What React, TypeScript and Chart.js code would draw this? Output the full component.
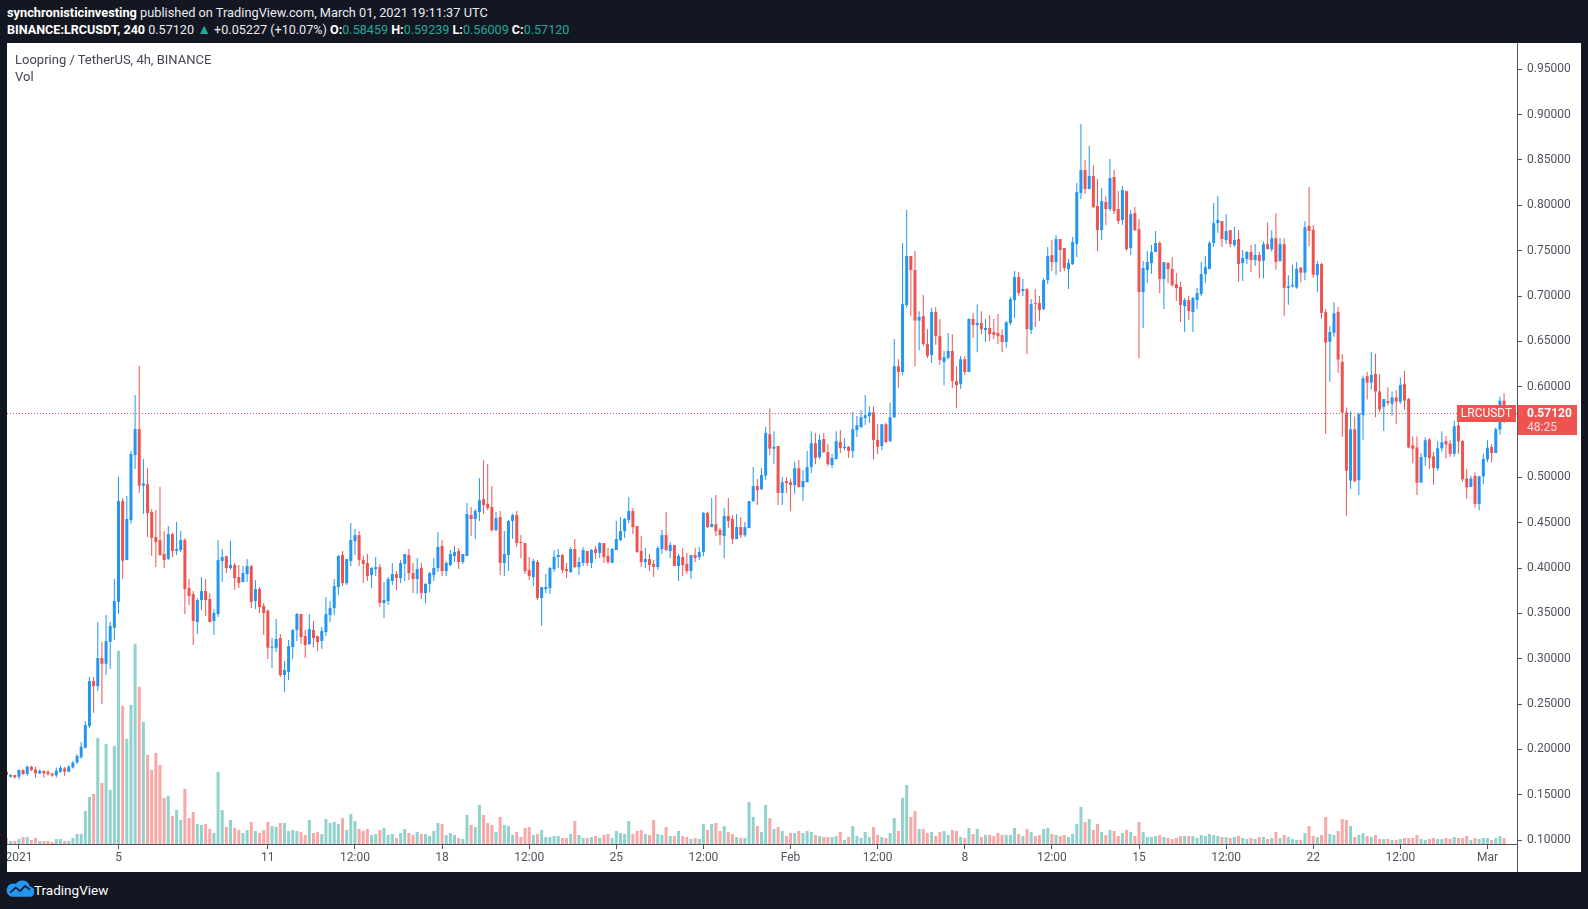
import React, { useEffect, useRef } from "react";
import { Chart, registerables } from "chart.js";

Chart.register(...registerables);

// 4h candles, index 0 = 31 Dec 2020 12:00 UTC
const OPEN = [
.1755,.1700,.1718,.1700,.1773,.1729,.1810,.1780,.1736,.1762,
.1755,.1736,.1714,.1755,.1791,.1755,.1802,.1857,.1913,.2019,
.2258,.2754,.2699,.3008,.2945,.3188,.3342,.3629,.4739,.4088,
.4530,.5246,.5533,.4908,.4926,.4618,.4342,.4309,.4155,.4100,
.4375,.4188,.4199,.4309,.3780,.3714,.3405,.3648,.3747,.3659,
.3416,.3493,.4077,.4133,.4000,.4033,.3901,.3846,.3934,.4022,
.3637,.3769,.3581,.3530,.3122,.3122,.3229,.2821,.2854,.3129,
.3317,.3493,.3251,.3162,.3317,.3251,.3196,.3295,.3482,.3559,
.3791,.4144,.3835,.4078,.4298,.4364,.4089,.4056,.3923,.3989,
.4011,.3615,.3637,.3857,.3934,.3890,.4045,.4144,.3945,.3879,
.4000,.3725,.3824,.3923,.4000,.4243,.3967,.4034,.4133,.4188,
.4067,.4133,.4585,.4541,.4618,.4761,.4706,.4673,.4419,.4563,
.4056,.4144,.4519,.4585,.4287,.4276,.3978,.3901,.4067,.3670,
.3769,.3780,.3989,.4122,.4144,.3989,.3956,.4210,.4011,.4056,
.4188,.4056,.4210,.4166,.4276,.4133,.4056,.4199,.4309,.4408,
.4530,.4629,.4463,.4188,.4067,.4100,.4045,.4012,.4210,.4364,
.4188,.4254,.4023,.4122,.4045,.3967,.4144,.4122,.4177,.4607,
.4452,.4485,.4419,.4353,.4574,.4541,.4320,.4452,.4364,.4441,
.4739,.4904,.4871,.5019,.5477,.5318,.5346,.4829,.4960,.4947,
.4915,.5101,.4892,.4947,.5114,.5377,.5223,.5423,.5278,.5137,
.5201,.5391,.5323,.5337,.5291,.5523,.5554,.5654,.5677,.5717,
.5414,.5346,.5586,.5400,.5663,.6226,.6162,.6901,.7441,.7287,
.6729,.6779,.6471,.6348,.6824,.6557,.6271,.6317,.6394,.6062,
.6031,.6303,.6162,.6747,.6679,.6702,.6625,.6648,.6602,.6593,
.6570,.6493,.6702,.6955,.7209,.7055,.7077,.6625,.6922,.6922,
.6856,.7176,.7452,.7374,.7628,.7529,.7297,.7352,.7573,.8135,
.8389,.8179,.8323,.7992,.7727,.8036,.7959,.8312,.7959,.7837,
.8157,.7529,.7915,.7738,.7044,.7286,.7363,.7485,.7584,.7187,
.7363,.7297,.7132,.7099,.6889,.6955,.6823,.6955,.7022,.7242,
.7297,.7584,.7804,.7826,.7617,.7727,.7562,.7628,.7363,.7408,
.7485,.7397,.7452,.7389,.7572,.7516,.7637,.7389,.7572,.7090,
.7108,.7094,.7314,.7258,.7773,.7731,.7230,.7352,.6823,.6495,
.6594,.6823,.6275,.5714,.4965,.5531,.4970,.5686,.6116,.6046,
.6140,.5948,.5779,.5840,.5812,.5882,.5835,.6028,.5864,.5354,
.5330,.4942,.5223,.5419,.5232,.5101,.5321,.5400,.5372,.5260,
.5574,.5400,.4988,.4895,.5017,.4708,.5012,.5199,.5335,.5269,
.5527,.58459];

const HIGH = [
.1760,.1730,.1720,.1780,.1780,.1820,.1820,.1810,.1780,.1770,
.1770,.1740,.1800,.1820,.1810,.1830,.1870,.1950,.2080,.2310,
.2800,.2800,.3405,.3184,.3482,.3409,.3879,.5004,.4772,.4794,
.5290,.5908,.6228,.5202,.5103,.4651,.4640,.4893,.4408,.4463,
.4386,.4508,.4408,.4331,.3879,.3747,.3670,.3901,.3879,.3725,
.3548,.4309,.4210,.4133,.4298,.4055,.4033,.4022,.4100,.4033,
.3868,.3791,.3614,.3545,.3229,.3438,.3273,.2975,.3207,.3328,
.3504,.3493,.3317,.3493,.3416,.3251,.3350,.3681,.3637,.3879,
.4144,.4188,.4100,.4497,.4430,.4408,.4133,.4155,.4011,.4122,
.4045,.3846,.3901,.4056,.3967,.4089,.4155,.4210,.4056,.4111,
.4056,.3835,.3956,.4111,.4397,.4309,.4078,.4199,.4243,.4221,
.4155,.4717,.4673,.4651,.4993,.5191,.5147,.4905,.4618,.4630,
.4408,.4530,.4600,.4629,.4364,.4276,.4122,.4100,.4089,.3791,
.3934,.4011,.4199,.4210,.4155,.4056,.4232,.4320,.4122,.4232,
.4188,.4210,.4243,.4287,.4276,.4221,.4221,.4519,.4563,.4552,
.4783,.4662,.4463,.4353,.4221,.4155,.4089,.4243,.4419,.4618,
.4287,.4254,.4155,.4221,.4166,.4144,.4221,.4232,.4618,.4618,
.4772,.4805,.4441,.4662,.4772,.4585,.4596,.4563,.4508,.4739,
.5114,.4982,.5103,.5559,.5763,.5509,.5346,.5005,.5005,.4983,
.5169,.5192,.5083,.5291,.5509,.5491,.5477,.5491,.5368,.5259,
.5509,.5523,.5432,.5346,.5722,.5677,.5740,.5908,.5785,.5785,
.5586,.5586,.5600,.5822,.6525,.6303,.7582,.7949,.7441,.7496,
.6833,.7010,.6634,.6870,.6879,.6747,.6394,.6593,.6579,.6226,
.6339,.6339,.6756,.6811,.6910,.6833,.6747,.6788,.6747,.6802,
.6634,.6725,.6988,.7275,.7264,.7187,.7088,.6966,.7077,.7000,
.7198,.7540,.7617,.7672,.7628,.7529,.7408,.7650,.8245,.8896,
.8499,.8654,.8444,.8290,.8190,.8102,.8510,.8389,.8157,.8212,
.8157,.7948,.7981,.7849,.7385,.7496,.7562,.7716,.7606,.7374,
.7374,.7430,.7253,.7154,.6977,.6999,.6988,.7088,.7374,.7441,
.7606,.8025,.8102,.7826,.7904,.7727,.7760,.7727,.7507,.7496,
.7562,.7573,.7485,.7600,.7811,.7726,.7914,.7637,.7637,.7230,
.7347,.7375,.7314,.7825,.8204,.7783,.7389,.7366,.6856,.6669,
.6931,.6879,.6360,.5770,.5728,.5672,.5714,.6125,.6163,.6383,
.6364,.6140,.5864,.5995,.5948,.5962,.6102,.6173,.5878,.5452,
.5452,.5269,.5442,.5428,.5279,.5400,.5508,.5456,.5414,.5625,
.5667,.5414,.5096,.5017,.5054,.5012,.5260,.5410,.5367,.5550,
.5892,.59239];

const LOW = [
.1670,.1690,.1680,.1670,.1720,.1710,.1760,.1688,.1730,.1690,
.1710,.1700,.1690,.1740,.1710,.1750,.1790,.1840,.1900,.2010,
.2240,.2405,.2644,.2501,.2820,.2887,.3206,.3493,.3879,.4088,
.4493,.5092,.4827,.4596,.4342,.4133,.4011,.4133,.4000,.4088,
.4122,.4144,.4177,.3493,.3592,.3151,.3273,.3537,.3471,.3405,
.3261,.3460,.3846,.3945,.3978,.3758,.3780,.3846,.3846,.3559,
.3548,.3504,.3261,.2997,.2898,.3074,.2799,.2633,.2765,.2997,
.3196,.3162,.3008,.3151,.3129,.3085,.3107,.3251,.3405,.3482,
.3703,.3802,.3813,.4022,.4144,.4022,.3835,.3857,.3780,.3912,
.3570,.3449,.3592,.3813,.3758,.3835,.3857,.3868,.3725,.3714,
.3659,.3615,.3735,.3857,.3956,.3912,.3912,.4022,.4067,.3989,
.4045,.4133,.4353,.4320,.4519,.4596,.4640,.4397,.4408,.3923,
.3912,.3967,.4320,.4232,.4111,.3934,.3868,.3802,.3648,.3364,
.3725,.3714,.3956,.4000,.3945,.3890,.3945,.4000,.3923,.4022,
.4022,.4000,.4100,.4111,.4056,.4045,.4056,.4199,.4298,.4331,
.4497,.4375,.4166,.4012,.4001,.3967,.3901,.3978,.4155,.4188,
.4111,.4023,.3857,.3912,.3934,.3879,.4067,.4089,.4133,.4441,
.4452,.4353,.4254,.4111,.4441,.4265,.4320,.4331,.4342,.4441,
.4728,.4695,.4860,.4974,.5246,.5151,.4697,.4697,.4829,.4629,
.4820,.4892,.4738,.4947,.5047,.5146,.5201,.5269,.5124,.5101,
.5201,.5269,.5300,.5214,.5214,.5445,.5545,.5577,.5600,.5201,
.5259,.5300,.5377,.5391,.5654,.5985,.6130,.6869,.6779,.6226,
.6403,.6448,.6316,.6262,.6462,.6239,.6017,.6303,.5985,.5763,
.5976,.6130,.6162,.6538,.6380,.6579,.6493,.6502,.6525,.6471,
.6380,.6425,.6679,.6757,.7000,.7000,.6360,.6581,.6658,.6724,
.6845,.7132,.7275,.7231,.7264,.7275,.7077,.7341,.7430,.8069,
.8124,.8179,.7970,.7496,.7617,.7782,.7937,.7904,.7793,.7782,
.7496,.7452,.7716,.6316,.6647,.7143,.7242,.7485,.7033,.6856,
.7143,.7099,.6944,.6713,.6603,.6735,.6603,.6856,.7000,.7143,
.7297,.7540,.7694,.7540,.7573,.7540,.7540,.7154,.7165,.7352,
.7264,.7330,.7198,.7193,.7516,.7488,.7291,.7375,.6781,.6903,
.7094,.7080,.7151,.7174,.7553,.7202,.7043,.6753,.5480,.6055,
.6552,.6154,.5447,.4577,.4871,.4956,.4806,.5414,.5859,.5966,
.5662,.5719,.5513,.5793,.5681,.5587,.5812,.5747,.5321,.5157,
.4806,.4942,.5129,.5096,.4918,.5073,.5284,.5209,.5227,.5227,
.5260,.4951,.4764,.4895,.4665,.4637,.4928,.5166,.5166,.5269,
.5471,.56009];

const CLOSE = [
.1718,.1718,.1692,.1773,.1729,.1810,.1773,.1736,.1766,.1736,
.1729,.1714,.1766,.1799,.1755,.1810,.1857,.1927,.2030,.2269,
.2754,.2699,.3008,.2945,.3195,.3361,.3637,.4739,.4081,.4541,
.5257,.5533,.4908,.4934,.4607,.4335,.4287,.4144,.4088,.4375,
.4188,.4210,.4309,.3769,.3692,.3416,.3648,.3747,.3648,.3405,
.3504,.4088,.4122,.4000,.4033,.3890,.3835,.3945,.4022,.3625,
.3769,.3570,.3504,.3122,.3129,.3218,.2821,.2876,.3140,.3317,
.3493,.3240,.3151,.3328,.3229,.3185,.3306,.3493,.3559,.3802,
.4133,.3835,.4100,.4309,.4364,.4089,.4045,.3912,.4000,.4011,
.3615,.3648,.3879,.3934,.3890,.4056,.4155,.3945,.3879,.3989,
.3725,.3824,.3945,.4000,.4232,.3967,.4056,.4155,.4177,.4067,
.4155,.4596,.4541,.4630,.4750,.4695,.4662,.4419,.4552,.4056,
.4155,.4519,.4585,.4276,.4276,.3967,.3912,.4078,.3670,.3791,
.3791,.4000,.4122,.4144,.3978,.3967,.4210,.4011,.4067,.4199,
.4056,.4199,.4166,.4276,.4122,.4067,.4210,.4320,.4408,.4541,
.4629,.4452,.4177,.4067,.4100,.4034,.4012,.4221,.4364,.4199,
.4254,.4023,.4133,.4034,.3967,.4144,.4111,.4177,.4607,.4452,
.4485,.4408,.4364,.4574,.4519,.4320,.4452,.4364,.4452,.4739,
.4904,.4860,.5026,.5491,.5318,.5337,.4829,.4947,.4938,.4915,
.5101,.4892,.4960,.5114,.5377,.5214,.5414,.5278,.5146,.5214,
.5400,.5323,.5337,.5291,.5532,.5577,.5663,.5686,.5717,.5414,
.5337,.5586,.5391,.5663,.6226,.6162,.6910,.7441,.7287,.6729,
.6770,.6471,.6339,.6824,.6557,.6294,.6326,.6394,.6062,.6017,
.6303,.6162,.6747,.6679,.6702,.6634,.6648,.6579,.6570,.6557,
.6493,.6711,.6965,.7209,.7033,.7077,.6636,.6911,.6911,.6845,
.7176,.7441,.7374,.7628,.7507,.7308,.7363,.7595,.8146,.8389,
.8179,.8323,.7981,.7727,.8047,.7959,.8301,.7937,.7827,.8168,
.7518,.7904,.7727,.7044,.7308,.7374,.7485,.7584,.7187,.7374,
.7297,.7121,.7088,.6900,.6955,.6834,.6977,.7033,.7242,.7319,
.7584,.7804,.7838,.7628,.7716,.7573,.7617,.7352,.7419,.7485,
.7397,.7452,.7385,.7572,.7516,.7637,.7375,.7572,.7090,.7108,
.7122,.7300,.7258,.7759,.7717,.7235,.7352,.6814,.6486,.6603,
.6809,.6299,.5714,.5073,.5531,.4956,.5700,.6093,.6046,.6130,
.5948,.5751,.5864,.5821,.5882,.5835,.6018,.5849,.5330,.5316,
.4942,.5223,.5410,.5213,.5105,.5321,.5386,.5363,.5260,.5564,
.5396,.4979,.4890,.4988,.4708,.5012,.5204,.5326,.5269,.5531,
.5846,.57120];

// volume, millions of LRC
const VOLUME = [
0.6,0.3,0.3,0.5,0.7,0.7,0.4,0.6,0.3,0.3,
0.3,0.2,0.5,0.5,0.3,0.3,0.6,1.0,1.0,3.3,
4.7,5.0,10.6,6.1,10.0,5.4,9.8,19.3,13.8,10.5,
13.9,20.0,15.7,12.2,8.9,7.4,9.1,7.9,4.6,4.8,
2.8,3.4,2.4,5.5,2.6,3.2,2.0,1.9,2.0,1.5,
1.1,7.2,3.4,1.7,2.4,1.6,1.4,1.1,1.4,2.2,
1.3,1.1,1.4,
2.2,1.8,1.7,2.1,2.1,1.3,1.4,1.3,1.2,0.9,
2.4,1.1,1.2,1.0,2.5,2.1,2.2,2.0,2.6,1.4,
3.0,2.3,1.5,1.3,1.5,0.9,1.0,1.4,1.6,0.9,
1.0,0.6,1.1,1.5,1.1,0.9,1.2,1.0,1.0,0.8,
1.3,2.1,2.0,0.9,1.1,0.9,0.6,0.5,2.9,1.9,
1.7,3.9,2.9,2.1,1.9,1.2,2.7,1.9,1.8,0.9,
1.2,0.7,1.6,1.7,0.9,1.0,1.4,0.7,0.7,0.8,
0.8,0.6,0.6,1.0,2.3,0.9,0.6,0.6,0.7,0.8,
0.6,0.9,1.0,0.6,1.3,1.1,1.0,2.3,1.0,1.3,
1.4,1.0,0.9,2.4,1.0,0.9,1.7,0.8,0.8,1.3,
0.8,0.7,0.5,0.6,0.5,2.0,1.4,2.0,2.1,1.3,
1.8,1.2,1.0,0.7,0.6,0.6,4.2,2.7,1.8,1.2,
3.9,2.6,1.5,1.7,1.3,0.8,1.1,1.1,1.3,1.1,
1.3,1.2,0.9,0.8,0.7,0.7,0.7,0.8,1.2,0.4,
0.7,1.8,0.8,0.6,1.2,0.7,1.7,0.9,0.7,0.6,
1.1,2.6,1.3,4.6,5.9,2.7,3.3,1.5,1.5,1.1,
1.2,0.8,1.2,1.3,0.9,1.4,1.3,0.7,0.6,1.6,
1.0,1.5,0.7,0.9,0.9,0.8,1.1,0.9,0.9,0.9,
1.6,1.0,0.8,1.5,1.2,0.8,0.9,1.5,1.6,1.0,
0.9,0.8,0.9,0.7,1.0,2.0,3.7,2.2,2.5,1.4,
2.0,1.2,0.9,1.4,1.3,0.8,1.1,1.4,1.2,0.8,
2.2,1.2,0.7,0.7,0.8,0.9,0.7,0.6,0.5,0.6,
0.8,0.8,0.8,0.8,0.6,0.9,0.8,1.0,0.9,0.8,
0.7,0.7,0.6,0.7,0.8,0.6,0.5,0.6,0.5,0.7,
0.7,0.5,0.6,1.2,0.6,0.9,0.7,0.5,0.4,0.4,
1.1,1.8,0.8,0.7,0.9,2.7,1.0,0.9,1.3,2.5,
2.4,1.8,0.7,0.9,1.1,0.8,0.7,0.9,0.5,0.5,
0.5,0.4,0.4,0.5,0.6,0.6,0.6,0.9,0.5,0.4,
0.5,0.6,0.5,0.5,0.6,0.5,0.7,0.6,0.6,0.8,
0.4,0.6,0.5,0.6,0.6,0.4,0.6,0.8,0.6];

// time axis: candle index of each labelled tick and its text
const X_TICK_INDEX = [3, 27, 63, 84, 105, 126, 147, 168, 189, 210, 231, 252, 273, 294, 315, 336, 357];
const X_TICK_LABELS = ["2021", "5", "11", "12:00", "18", "12:00", "25", "12:00", "Feb", "12:00", "8", "12:00", "15", "12:00", "22", "12:00", "Mar"];
const Y_TICKS = [0.10, 0.15, 0.20, 0.25, 0.30, 0.35, 0.40, 0.45, 0.50, 0.55, 0.60, 0.65, 0.70, 0.75, 0.80, 0.85, 0.90, 0.95];

const X_MIN = 0.12;
const X_MAX = 364.12;
const Y_MIN = 0.09578;
const Y_MAX = 0.979;

const SYMBOL = "LRCUSDT";
const COUNTDOWN = "48:25";

const UP = "#2196f3";
const DOWN = "#ef5350";
const VOL_UP = "rgba(38,166,154,0.5)";
const VOL_DOWN = "rgba(239,83,80,0.5)";
const AXIS = "#50535e";
const TEXT = "#50535e";
const TEAL = "#26a69a";
const FONT = "Roboto, 'Noto Sans', sans-serif";

export default function App() {
  const ref = useRef<HTMLCanvasElement>(null);

  useEffect(() => {
    const n = CLOSE.length;
    const idx = Array.from({ length: n }, (_, i) => i);
    const isUp = idx.map((i) => CLOSE[i] >= OPEN[i]);
    const candleColor = isUp.map((u) => (u ? UP : DOWN));
    const volColor = isUp.map((u) => (u ? VOL_UP : VOL_DOWN));
    const last = n - 1;
    const lastPrice = CLOSE[last];
    const lastColor = candleColor[last];
    const volMax = Math.max(...VOLUME) * 4;

    const overlay = {
      id: "tvOverlay",
      beforeDatasetsDraw(chart: any) {
        const { ctx, chartArea, scales } = chart;
        const y = Math.round(scales.y.getPixelForValue(lastPrice)) + 0.5;
        ctx.save();
        ctx.strokeStyle = lastColor;
        ctx.lineWidth = 1;
        ctx.setLineDash([1, 2]);
        ctx.beginPath();
        ctx.moveTo(chartArea.left, y);
        ctx.lineTo(chartArea.right, y);
        ctx.stroke();
        ctx.restore();
      },
      afterDraw(chart: any) {
        const { ctx, chartArea, scales } = chart;
        const py = Math.round(scales.y.getPixelForValue(lastPrice));
        ctx.save();
        ctx.strokeStyle = AXIS;
        ctx.lineWidth = 1;
        ctx.beginPath();
        ctx.moveTo(chartArea.right + 0.5, chartArea.bottom);
        ctx.lineTo(chartArea.right + 0.5, chart.height);
        ctx.stroke();
        ctx.fillStyle = lastColor;
        ctx.fillRect(chartArea.right - 60, py - 8, 59, 17);
        ctx.fillRect(chartArea.right + 1, py - 8, 59, 30);
        ctx.fillStyle = "#ffffff";
        ctx.textBaseline = "middle";
        ctx.textAlign = "center";
        ctx.font = "12px " + FONT;
        ctx.fillText(SYMBOL, chartArea.right - 30.5, py + 0.5);
        ctx.textAlign = "left";
        ctx.font = "bold 12px " + FONT;
        ctx.fillText(lastPrice.toFixed(5), chartArea.right + 10, py + 0.5);
        ctx.font = "12px " + FONT;
        ctx.fillStyle = "rgba(255,255,255,0.8)";
        ctx.fillText(COUNTDOWN, chartArea.right + 10, py + 15);
        ctx.restore();
      },
    };

    const chart = new Chart(ref.current as HTMLCanvasElement, {
      type: "bar",
      data: {
        datasets: [
          {
            label: "body",
            data: idx.map((i) => ({ x: i, y: [OPEN[i], CLOSE[i]] })) as any,
            backgroundColor: candleColor,
            barThickness: 3,
            minBarLength: 1,
            grouped: false,
            inflateAmount: 0,
            order: 1,
          } as any,
          {
            label: "wick",
            data: idx.map((i) => ({ x: i, y: [LOW[i], HIGH[i]] })) as any,
            backgroundColor: candleColor,
            barThickness: 1,
            grouped: false,
            inflateAmount: 0,
            order: 2,
          } as any,
          {
            label: "volume",
            data: idx.map((i) => ({ x: i, y: VOLUME[i] })) as any,
            backgroundColor: volColor,
            barThickness: 3,
            grouped: false,
            inflateAmount: 0,
            yAxisID: "yv",
            order: 3,
          } as any,
        ],
      },
      options: {
        responsive: false,
        maintainAspectRatio: false,
        animation: false,
        events: [],
        layout: { padding: 0 },
        plugins: { legend: { display: false }, tooltip: { enabled: false } },
        scales: {
          x: {
            type: "linear",
            min: X_MIN,
            max: X_MAX,
            offset: false,
            grid: { display: true, drawOnChartArea: false, drawTicks: true, tickLength: 5, color: AXIS, offset: false },
            border: { display: true, color: AXIS, width: 1 },
            ticks: {
              autoSkip: false,
              maxRotation: 0,
              minRotation: 0,
              padding: 2,
              color: TEXT,
              font: { family: FONT, size: 12 },
              callback: (_v: any, i: number) => X_TICK_LABELS[i],
            },
            afterBuildTicks: (s: any) => {
              s.ticks = X_TICK_INDEX.map((v) => ({ value: v }));
            },
            afterFit: (s: any) => {
              s.height = 28;
              s.paddingLeft = 0;
              s.paddingRight = 0;
            },
          } as any,
          y: {
            type: "linear",
            position: "right",
            min: Y_MIN,
            max: Y_MAX,
            grid: { display: true, drawOnChartArea: false, drawTicks: true, tickLength: 5, color: AXIS },
            border: { display: true, color: AXIS, width: 1 },
            ticks: {
              padding: 5,
              color: TEXT,
              font: { family: FONT, size: 12 },
              callback: (v: any) => Number(v).toFixed(5),
            },
            afterBuildTicks: (s: any) => {
              s.ticks = Y_TICKS.map((v) => ({ value: v }));
            },
            afterFit: (s: any) => {
              s.width = 64;
              s.paddingTop = 0;
              s.paddingBottom = 0;
            },
          } as any,
          yv: { type: "linear", display: false, min: 0, max: volMax },
        },
      },
      plugins: [overlay],
    });
    return () => chart.destroy();
  }, []);

  const bold = { fontWeight: 700, color: "#ffffff" };
  const teal = { color: TEAL };

  return (
    <div style={{ position: "absolute", left: 0, top: 0, width: 1588, height: 909, background: "#131722", overflow: "hidden", fontFamily: FONT }}>
      <div style={{ position: "absolute", left: 7, top: 4, fontSize: 12.8, lineHeight: "17px", color: "#e9ebf0", whiteSpace: "nowrap" }}>
        <span style={bold}>synchronisticinvesting</span> published on TradingView.com, March 01, 2021 19:11:37 UTC
      </div>
      <div style={{ position: "absolute", left: 7, top: 21, fontSize: 12.6, lineHeight: "17px", color: "#e9ebf0", whiteSpace: "nowrap" }}>
        <span style={bold}>BINANCE:LRCUSDT, 240</span> 0.57120 <span style={{ ...teal, fontSize: 14 }}>▲</span> +0.05227 (+10.07%){" "}
        <span style={bold}>O:</span><span style={teal}>0.58459</span> <span style={bold}>H:</span><span style={teal}>0.59239</span>{" "}
        <span style={bold}>L:</span><span style={teal}>0.56009</span> <span style={bold}>C:</span><span style={teal}>0.57120</span>
      </div>
      <div style={{ position: "absolute", left: 7, top: 43, width: 1574, height: 829, background: "#ffffff" }}>
        <canvas ref={ref} width={1574} height={829} style={{ display: "block", width: 1574, height: 829 }} />
        <div style={{ position: "absolute", left: 8, top: 9, fontSize: 13, lineHeight: "16px", color: "#434651", whiteSpace: "nowrap" }}>
          Loopring / TetherUS, 4h, BINANCE
        </div>
        <div style={{ position: "absolute", left: 8, top: 26, fontSize: 13, lineHeight: "16px", color: "#434651" }}>Vol</div>
      </div>
      <svg style={{ position: "absolute", left: 6, top: 878 }} width="28" height="19" viewBox="0 0 27 18">
        <path d="M5 18 H22 A5 5 0 0 0 23 8 A7.5 7.5 0 0 0 9.5 5.5 A6.2 6.2 0 0 0 5 18 Z" fill="#2196f3" />
        <polyline points="4,14 9.5,9 13.5,12.5 18.5,7.5 23,11" fill="none" stroke="#131722" strokeWidth="1.6" />
      </svg>
      <div style={{ position: "absolute", left: 34, top: 882, fontSize: 13.5, lineHeight: "17px", color: "#ffffff", whiteSpace: "nowrap" }}>
        TradingView
      </div>
    </div>
  );
}
